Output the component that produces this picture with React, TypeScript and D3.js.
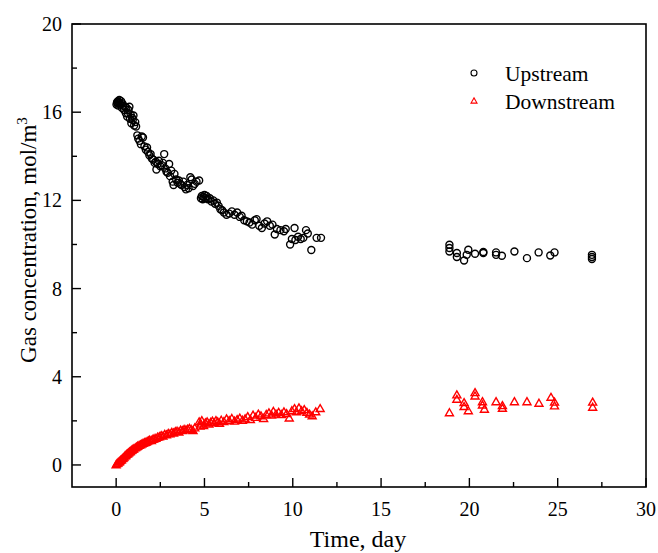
import React from "react";
import * as d3 from "d3";

const upT = [0.02,0.05,0.08,0.10,0.12,0.15,0.18,0.20,0.25,0.28,0.32,0.35,0.40,0.45,0.50,0.55,0.58,0.62,0.66,0.70,0.75,0.78,0.82,0.86,0.90,0.94,0.98,1.02,1.08,1.13,1.20,1.25,1.32,1.40,1.45,1.52,1.60,1.68,1.75,1.80,1.88,1.95,2.02,2.10,2.18,2.25,2.28,2.35,2.42,2.50,2.58,2.65,2.72,2.78,2.85,2.92,3.00,3.05,3.12,3.20,3.25,3.30,3.40,3.48,3.55,3.62,3.70,3.80,3.88,3.95,4.02,4.10,4.20,4.28,4.35,4.45,4.55,4.70,4.80,4.85,4.90,4.95,5.00,5.05,5.12,5.20,5.30,5.40,5.50,5.60,5.70,5.80,5.90,6.00,6.10,6.25,6.40,6.55,6.70,6.85,7.00,7.10,7.25,7.40,7.55,7.70,7.85,7.95,8.10,8.25,8.40,8.55,8.70,8.85,8.98,9.10,9.30,9.50,9.60,9.85,9.95,10.10,10.15,10.30,10.45,10.60,10.75,10.85,11.05,11.35,11.60,
  18.87,18.87,18.87,19.29,19.29,19.70,19.85,19.94,20.32,20.79,20.79,21.51,21.51,21.84,22.55,23.26,23.92,24.58,24.82,26.94,26.94,26.94];
const upV = [16.35,16.45,16.40,16.50,16.30,16.45,16.55,16.40,16.35,16.50,16.20,16.40,16.30,16.10,16.25,15.95,16.20,15.80,15.95,16.10,16.25,15.70,15.90,15.50,15.75,15.65,15.85,15.40,15.55,15.35,14.95,14.80,14.70,14.55,14.90,14.85,14.45,14.30,14.40,14.20,14.05,14.10,13.90,13.85,13.70,13.75,13.40,13.65,13.80,13.55,13.60,13.70,14.10,13.45,13.30,13.25,13.65,13.10,13.35,12.85,12.70,13.20,12.95,12.80,12.90,12.75,12.70,12.85,12.60,12.50,12.70,12.55,13.05,12.95,12.65,12.75,12.85,12.90,12.10,12.20,12.05,12.15,12.25,12.10,12.20,12.05,12.10,11.95,12.00,11.85,11.90,11.75,11.60,11.55,11.45,11.35,11.40,11.50,11.35,11.45,11.25,11.30,11.10,11.05,11.00,10.90,11.10,11.15,10.85,10.75,10.95,11.05,10.85,10.90,10.45,10.70,10.65,10.60,10.70,10.00,10.25,10.75,10.20,10.35,10.25,10.30,10.65,10.50,9.75,10.30,10.30,
  9.99,9.84,9.68,9.61,9.43,9.27,9.53,9.76,9.58,9.61,9.66,9.64,9.53,9.49,9.68,9.38,9.64,9.50,9.64,9.53,9.43,9.34];

const downT = [0.00,0.05,0.10,0.15,0.20,0.25,0.30,0.35,0.40,0.45,0.50,0.55,0.60,0.65,0.70,0.75,0.80,0.85,0.90,0.95,1.00,1.08,1.15,1.22,1.30,1.38,1.45,1.52,1.60,1.68,1.75,1.82,1.90,2.00,2.08,2.15,2.25,2.35,2.45,2.55,2.65,2.75,2.85,2.95,3.05,3.15,3.25,3.35,3.45,3.55,3.65,3.75,3.85,3.95,4.05,4.15,4.25,4.35,4.45,4.70,4.75,4.80,4.85,4.95,5.05,5.15,5.25,5.35,5.45,5.55,5.65,5.75,5.85,5.95,6.10,6.25,6.40,6.55,6.70,6.85,7.00,7.15,7.30,7.45,7.60,7.75,7.90,8.05,8.20,8.35,8.50,8.65,8.80,8.90,9.05,9.20,9.35,9.50,9.65,9.80,9.95,10.10,10.20,10.35,10.50,10.65,10.80,10.95,11.10,11.30,11.55,
  18.87,19.29,19.29,19.70,19.70,19.94,20.32,20.32,20.74,20.74,20.85,21.51,21.87,21.87,22.55,23.26,23.94,24.62,24.82,24.82,26.98,26.98];
const downV = [0.00,0.05,0.08,0.12,0.15,0.20,0.22,0.28,0.30,0.35,0.40,0.42,0.47,0.50,0.53,0.58,0.60,0.64,0.67,0.70,0.72,0.77,0.80,0.84,0.88,0.90,0.94,0.97,1.00,1.02,1.05,1.08,1.12,1.10,1.15,1.18,1.20,1.25,1.27,1.32,1.30,1.38,1.36,1.42,1.40,1.47,1.44,1.50,1.52,1.48,1.57,1.55,1.60,1.58,1.62,1.65,1.60,1.55,1.67,1.95,1.75,1.85,2.00,1.78,1.90,1.95,1.85,1.92,1.98,1.90,2.00,1.95,1.88,2.02,1.96,2.08,2.00,2.10,1.98,2.05,2.12,2.02,2.08,2.18,2.05,2.25,2.15,2.30,2.22,2.10,2.28,2.35,2.25,2.42,2.30,2.38,2.28,2.40,2.32,2.12,2.45,2.55,2.40,2.58,2.45,2.50,2.38,2.30,2.22,2.40,2.55,
  2.36,3.17,2.97,2.82,2.64,2.45,3.27,3.12,2.86,2.71,2.52,2.86,2.68,2.56,2.86,2.86,2.79,3.06,2.84,2.67,2.84,2.61];

const xTicks = [0, 5, 10, 15, 20, 25, 30];
const xMinor = [2.5, 7.5, 12.5, 17.5, 22.5, 27.5];
const yTicks = [0, 4, 8, 12, 16, 20];
const yMinor = [2, 6, 10, 14, 18];
const seriesNames = ["Upstream", "Downstream"];

const L = 72, R = 646, T = 24, B = 487;
const FONT = "'Liberation Serif', 'Times New Roman', serif";

const tri = (cx: number, cy: number, s: number) => {
  const h = s * 0.87;
  return `M${cx},${cy - h * 0.6}L${cx + s / 2},${cy + h * 0.4}L${cx - s / 2},${cy + h * 0.4}Z`;
};

export default function App() {
  const x = d3.scaleLinear().domain([-2.5, 30]).range([L, R]);
  const y = d3.scaleLinear().domain([-1, 20]).range([B, T]);
  return (
    <svg width={658} height={553} style={{ display: "block", position: "absolute", left: 0, top: 0 }} fontFamily={FONT}>
      <rect x={0} y={0} width={658} height={553} fill="white" />
      <rect x={L} y={T} width={R - L} height={B - T} fill="none" stroke="black" strokeWidth={1.6} />
      {xTicks.map((t) => (
        <g key={"xt" + t}>
          <line x1={x(t)} x2={x(t)} y1={B} y2={B - 9} stroke="black" strokeWidth={1.4} />
          <text x={x(t)} y={516} textAnchor="middle" fontSize={20}>{t}</text>
        </g>
      ))}
      {xMinor.map((t) => (
        <line key={"xm" + t} x1={x(t)} x2={x(t)} y1={B} y2={B - 5} stroke="black" strokeWidth={1.4} />
      ))}
      {yTicks.map((t) => (
        <g key={"yt" + t}>
          <line x1={L} x2={L + 9} y1={y(t)} y2={y(t)} stroke="black" strokeWidth={1.4} />
          <text x={62} y={y(t) + 7} textAnchor="end" fontSize={20}>{t}</text>
        </g>
      ))}
      {yMinor.map((t) => (
        <line key={"ym" + t} x1={L} x2={L + 5} y1={y(t)} y2={y(t)} stroke="black" strokeWidth={1.4} />
      ))}
      <text x={358} y={547} textAnchor="middle" fontSize={24}>Time, day</text>
      <text transform={`translate(36,${240}) rotate(-90)`} textAnchor="middle" fontSize={23}>
        Gas concentration, mol/m<tspan dy={-9} fontSize={15}>3</tspan>
      </text>
      <g fill="none" stroke="black" strokeWidth={1.4}>
        {upT.map((t, i) => (
          <circle key={"u" + i} cx={x(t)} cy={y(upV[i])} r={3.5} />
        ))}
      </g>
      <g fill="none" stroke="red" strokeWidth={1.4}>
        {downT.map((t, i) => (
          <path key={"d" + i} d={tri(x(t), y(downV[i]), 8)} />
        ))}
      </g>
      <circle cx={474} cy={73} r={3} fill="none" stroke="black" strokeWidth={1.1} />
      <text x={505} y={81} fontSize={21.5}>{seriesNames[0]}</text>
      <path d={tri(474, 101, 6)} fill="none" stroke="red" strokeWidth={1.1} />
      <text x={505} y={109} fontSize={21.5}>{seriesNames[1]}</text>
    </svg>
  );
}
